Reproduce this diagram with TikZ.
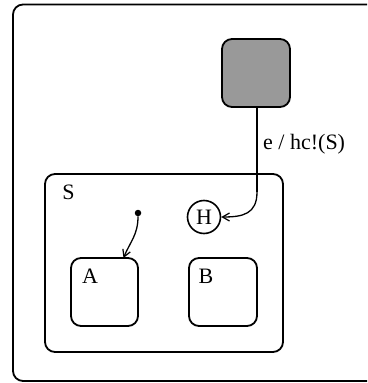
\documentclass[tikz,border=0pt]{standalone}
\usepackage{fontspec}
\setmainfont{Liberation Serif}
\usetikzlibrary{arrows.meta}
\begin{document}
\begin{tikzpicture}[x=1pt,y=-1pt,
  state/.style={draw,line width=1.8pt,rounded corners=10pt,inner sep=0pt,outer sep=0pt},
  lbl/.style={font=\fontsize{22}{26}\selectfont,inner sep=0pt},
  trans/.style={line width=1.3pt,-{Straight Barb[length=7pt,width=8pt,line width=1.2pt]}}]
\useasboundingbox (0,0) rectangle (367,383);
\begin{scope}
\clip (0,0) rectangle (367,383);
\draw[line width=1.8pt,rounded corners=10pt] (13,4.5) rectangle (400,381);
\end{scope}
\node[state,fill=black!40,minimum width=68pt,minimum height=68pt] (hist) at (256,73) {};
\node[state,minimum width=238pt,minimum height=178pt] (S) at (164,263) {};
\node[lbl] (Slbl) at (68.5,192.5) {S};
\node[state,minimum width=67pt,minimum height=68pt] (A) at (104.5,292) {};
\node[state,minimum width=68pt,minimum height=68pt] (B) at (223,292) {};
\node[lbl] (Albl) at (90,276) {A};
\node[lbl] (Blbl) at (206,276) {B};
\node[draw,circle,line width=1.6pt,minimum size=33pt,inner sep=0pt,lbl] (H) at (204,217) {H};
\node[circle,fill,inner sep=0pt,minimum size=6.5pt] (init) at (138,213) {};
\coordinate (bend) at (257,192);
\draw[line width=1.3pt] (hist.south -| bend) -- (bend);
\draw[trans] (bend) .. controls (257,214) and (243,217) .. (H.east);
\node[lbl,anchor=west] (elbl) at (263,144) {e / hc!(S)};
\draw[trans] (init) .. controls (138,235) and (130,242) .. ([xshift=19pt]A.north);
\end{tikzpicture}
\end{document}
